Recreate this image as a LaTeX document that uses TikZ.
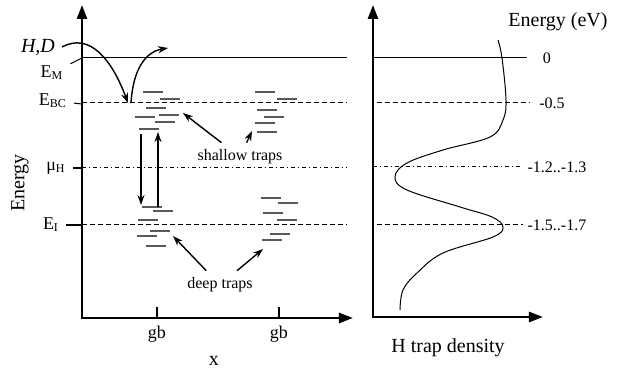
\documentclass[tikz,border=0pt]{standalone}
\usepackage{fontspec}
\setmainfont{Liberation Serif}
\usetikzlibrary{arrows.meta}
\tikzset{
  axis/.style={line width=1.3pt,{Triangle[length=7pt,width=5pt]}-{Triangle[length=7pt,width=5pt]}},
  level/.style={line width=0.5pt},
  dashlevel/.style={level,dash pattern=on 2.5pt off 1.5pt},
  dotlevel/.style={level,dash pattern=on 2pt off 1.5pt on 0.5pt off 1.5pt},
  trap/.style={line width=0.6pt,black!65},
  ptr/.style={line width=0.7pt,-{Stealth[length=5pt,width=3.5pt]}},
  tick/.style={line width=1.2pt},
  big/.style={font=\fontsize{10}{12}\selectfont},
  lbl/.style={font=\fontsize{9}{10}\selectfont},
  sm/.style={font=\fontsize{8}{9}\selectfont},
}
\begin{document}
\begin{tikzpicture}[x=0.5pt,y=-0.5pt]
  \useasboundingbox (0,0) rectangle (618,373);
  % left panel
  \draw[axis] (82,5) -- (82,318) -- (353,318);
  \draw[level] (82,58) -- (347,58);
  \draw[dashlevel] (82,103) -- (347,103);
  \draw[dotlevel] (82,168) -- (347,168);
  \draw[dashlevel] (82,225) -- (347,225);
  \node[big,rotate=90] (en) at (20,183) {Energy};
  \node[big,font=\fontsize{10}{12}\selectfont\itshape] (hd) at (38,47) {H,D};
  \node[lbl] (em) at (52,73) {E\textsubscript{M}};
  \node[lbl] (ebc) at (53,101) {E\textsubscript{BC}};
  \node[lbl] (mu) at (56,168) {μ\textsubscript{H}};
  \node[lbl] (ei) at (51,225) {E\textsubscript{I}};
  \coordinate (emAx) at (82,58);
  \coordinate (ebcAx) at (82,104);
  \coordinate (muAx) at (82,168);
  \coordinate (eiAx) at (82,225);
  \draw[level] (em) -- (emAx);
  \draw[level] (ebc) -- (ebcAx);
  \draw[tick] (mu) -- (muAx);
  \draw[tick] (ei) -- (eiAx);
  % trap levels
  \foreach \x/\y in {143/92,160/99,146/108,135/117,159/115,155/122,139/129,
                     142/207,153/211,138/220,150/231,137/236,146/246,
                     255/92,277/99,257/110,264/117,255/123,257/132,
                     261/198,278/203,263/213,277/220,270/234,262/240}
    \draw[trap] (\x,\y) -- ++(20,0);
  % H,D in and out
  \coordinate (inEnd) at (128,103);
  \coordinate (outStart) at (131,103);
  \coordinate (outEnd) at (168,48);
  \draw[ptr] (hd.east) .. controls (90,32) and (112,60) .. (inEnd);
  \draw[ptr] (outStart) .. controls (133,70) and (145,52) .. (outEnd);
  % shallow <-> deep
  \coordinate (dnA) at (141,134);
  \coordinate (dnB) at (141,205);
  \coordinate (upA) at (158,207);
  \coordinate (upB) at (158,132);
  \draw[ptr] (dnA) -- (dnB);
  \draw[ptr] (upA) -- (upB);
  \node[sm] (st) at (240,157) {shallow traps};
  \coordinate (stL) at (183,113);
  \coordinate (stR) at (252,131);
  \draw[ptr] (st) -- (stL);
  \draw[ptr] (st) -- (stR);
  \node[sm] (dt) at (220,285) {deep traps};
  \coordinate (dtL) at (173,236);
  \coordinate (dtR) at (263,249);
  \draw[ptr] (dt) -- (dtL);
  \draw[ptr] (dt) -- (dtR);
  \draw[tick] (157,307) -- (157,318);
  \draw[tick] (279,307) -- (279,318);
  \node[lbl] (gbA) at (157,334) {gb};
  \node[lbl] (gbB) at (279,334) {gb};
  \node[big] (xl) at (214,361) {x};
  % right panel
  \draw[axis] (373,5) -- (373,317) -- (543,317);
  \draw[level] (373,58) -- (527,58);
  \draw[dashlevel] (377,103) -- (530,103);
  \draw[dotlevel] (373,167) -- (522,167);
  \draw[dashlevel] (377,225) -- (523,225);
  \draw[level] plot[smooth,tension=0.6] coordinates {(498,40) (502,58) (506,100)
    (503,120) (490,137) (443,150) (407,163) (395,177) (407,190) (460,207)
    (492,217) (503,227) (493,237) (443,253) (417,273) (403,290) (400,310)};
  \node[big] (eev) at (558,22) {Energy (eV)};
  \node[sm] (v0) at (547,58) {0};
  \node[sm] (v1) at (552,103) {-0.5};
  \node[sm] (v2) at (557,167) {-1.2..-1.3};
  \node[sm] (v3) at (557,225) {-1.5..-1.7};
  \node[big] (dens) at (448,348) {H trap density};
\end{tikzpicture}
\end{document}
